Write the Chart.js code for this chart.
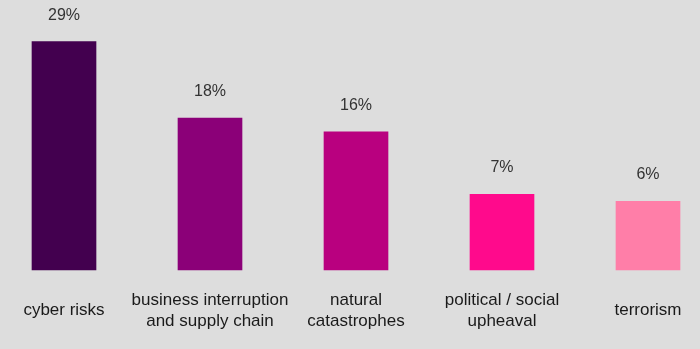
<!DOCTYPE html>
<html>
<head>
<meta charset="utf-8">
<script src="https://cdn.jsdelivr.net/npm/chart.js@4"></script>
<style>
  html, body { margin: 0; padding: 0; background: #dddddd; }
  #wrap { width: 700px; height: 349px; }
</style>
</head>
<body>
<div id="wrap"><canvas id="myChart"></canvas></div>
<script>
const categories = ['cyber risks', ['business interruption', 'and supply chain'], ['natural', 'catastrophes'], ['political / social', 'upheaval'], 'terrorism'];
const shares = [29, 18, 16, 7, 6];
const barColors = ['#43004f', '#8b0078', '#b9007f', '#ff0a8c', '#ff7ea8'];
const axisMin = -3.9;
const axisMax = 35;

// percent labels above the bars
const valueLabels = {
  id: 'valueLabels',
  afterDatasetsDraw(chart) {
    const ctx = chart.ctx;
    const meta = chart.getDatasetMeta(0);
    ctx.save();
    ctx.font = '16px "Liberation Sans", Arial, sans-serif';
    ctx.fillStyle = '#333333';
    ctx.textAlign = 'center';
    ctx.textBaseline = 'alphabetic';
    meta.data.forEach((bar, i) => {
      ctx.fillText(shares[i] + '%', bar.x, bar.y - 22);
    });
    ctx.restore();
  }
};

const ctx = document.getElementById('myChart');

new Chart(ctx, {
  type: 'bar',
  data: {
    labels: categories,
    datasets: [{
      data: shares,
      base: axisMin,
      backgroundColor: barColors,
      barThickness: 64,
      clip: false
    }]
  },
  options: {
    responsive: true,
    maintainAspectRatio: false,
    animation: false,
    layout: { padding: { left: 64, right: 52, top: 0, bottom: 0 } },
    plugins: { legend: { display: false }, tooltip: { enabled: false } },
    scales: {
      x: {
        offset: false,
        grid: { display: false, drawTicks: false },
        border: { display: false },
        afterFit(scale) {
          scale.height = 79;
          scale.paddingLeft = 0;
          scale.paddingRight = 0;
        },
        ticks: {
          padding: 30,
          crossAlign: 'center',
          maxRotation: 0,
          autoSkip: false,
          color: '#1a1a1a',
          font: { family: '"Liberation Sans", Arial, sans-serif', size: 17, lineHeight: 1.24 }
        }
      },
      y: {
        display: false,
        min: axisMin,
        max: axisMax
      }
    }
  },
  plugins: [valueLabels]
});
</script>
</body>
</html>
